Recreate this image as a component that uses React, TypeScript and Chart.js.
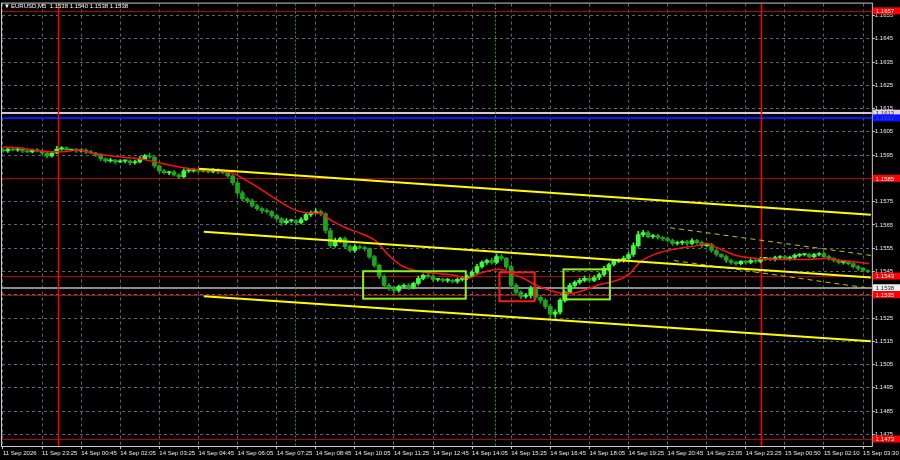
import { useEffect, useRef } from 'react';
import { Chart, registerables } from 'chart.js';

Chart.register(...registerables);

// M5 closes, one candle per two bars
const closes = [
  1.15968, 1.15976, 1.15972, 1.15976, 1.15968, 1.15964, 1.15972, 1.15968, 1.15959, 1.15947,
  1.15959, 1.15976, 1.15981, 1.15972, 1.15972, 1.15968, 1.15972, 1.15964, 1.15959, 1.15951,
  1.15934, 1.15925, 1.15929, 1.15921, 1.15925, 1.15925, 1.15917, 1.15921, 1.15934, 1.15947,
  1.15942, 1.15904, 1.15882, 1.15874, 1.15878, 1.15865, 1.15857, 1.15882, 1.15882, 1.15887,
  1.15882, 1.15882, 1.15878, 1.15887, 1.15878, 1.15874, 1.15861, 1.15831, 1.15788, 1.15762,
  1.15754, 1.15732, 1.1572, 1.15711, 1.15707, 1.1569, 1.15677, 1.1566, 1.15668, 1.15668,
  1.1566, 1.15673, 1.15694, 1.15703, 1.15707, 1.15698, 1.15626, 1.15561, 1.15583, 1.15591,
  1.15557, 1.1554, 1.15557, 1.15553, 1.15548, 1.15514, 1.15476, 1.15429, 1.1539, 1.15377,
  1.15369, 1.15386, 1.1539, 1.15382, 1.15399, 1.1542, 1.15433, 1.15429, 1.15416, 1.15416,
  1.15412, 1.15412, 1.15407, 1.15416, 1.1542, 1.15429, 1.15446, 1.15471, 1.15489, 1.15497,
  1.15489, 1.15514, 1.15506, 1.15471, 1.1539, 1.1536, 1.15343, 1.15347, 1.15377, 1.15339,
  1.15326, 1.153, 1.15266, 1.15275, 1.15326, 1.1536, 1.1539, 1.15403, 1.15412, 1.1542,
  1.15412, 1.15424, 1.15437, 1.15463, 1.1548, 1.15493, 1.15497, 1.15506, 1.15523, 1.15561,
  1.15608, 1.15617, 1.156, 1.15604, 1.15596, 1.15591, 1.15583, 1.1557, 1.15574, 1.15578,
  1.1557, 1.15583, 1.15574, 1.15561, 1.15566, 1.1554, 1.15523, 1.15514, 1.15497, 1.15489,
  1.15484, 1.15493, 1.15489, 1.15497, 1.15493, 1.15506, 1.15506, 1.15501, 1.1551, 1.15514,
  1.15506, 1.1551, 1.15519, 1.15523, 1.15523, 1.15514, 1.15523, 1.15527, 1.15514, 1.15506,
  1.15497, 1.15489, 1.15489, 1.15484, 1.15471, 1.15463, 1.15454, 1.1545,
];
const firstOpen = 1.15972;

// wick lengths beyond the body, in points (0.00001)
const upperWick = [
  6, 4, 8, 3, 5, 9, 4, 6, 3, 5, 4, 12, 6, 5, 3, 7, 4, 5, 6, 3,
  5, 4, 7, 3, 6, 4, 5, 8, 10, 6, 12, 5, 4, 6, 3, 5, 4, 9, 6, 5,
  4, 6, 3, 5, 4, 7, 5, 4, 6, 8, 5, 7, 6, 4, 8, 5, 6, 4, 9, 7,
  5, 8, 10, 6, 12, 7, 5, 9, 10, 6, 8, 7, 9, 5, 6, 4, 5, 7, 6, 8,
  9, 6, 7, 8, 5, 10, 6, 8, 7, 5, 6, 8, 5, 7, 9, 6, 8, 10, 7, 6,
  9, 12, 8, 5, 6, 8, 7, 9, 10, 6, 8, 7, 9, 10, 8, 6, 9, 7, 8, 10,
  6, 8, 7, 9, 6, 8, 7, 10, 8, 12, 14, 10, 8, 6, 7, 5, 8, 6, 7, 5,
  6, 8, 5, 7, 6, 5, 7, 4, 6, 5, 6, 4, 5, 7, 5, 6, 4, 5, 6, 4,
  5, 6, 7, 4, 5, 6, 5, 4, 6, 5, 4, 5, 3, 6, 4, 5, 4, 3,
];
const lowerWick = [
  5, 7, 4, 6, 8, 3, 5, 4, 7, 9, 6, 3, 5, 7, 4, 6, 5, 8, 4, 7,
  8, 6, 5, 9, 4, 7, 10, 6, 5, 4, 6, 9, 7, 5, 8, 6, 9, 4, 6, 5,
  7, 4, 6, 5, 8, 5, 7, 9, 10, 8, 9, 6, 8, 10, 7, 9, 8, 12, 6, 7,
  8, 6, 5, 7, 6, 9, 12, 10, 7, 8, 9, 6, 8, 7, 10, 9, 8, 10, 9, 7,
  10, 8, 6, 9, 7, 8, 6, 7, 9, 8, 7, 9, 6, 8, 7, 5, 6, 8, 7, 9,
  8, 6, 9, 12, 10, 9, 11, 8, 12, 10, 12, 10, 14, 12, 9, 8, 7, 9, 8, 7,
  8, 6, 9, 7, 8, 6, 5, 7, 6, 8, 7, 9, 6, 8, 7, 9, 6, 8, 7, 9,
  8, 6, 7, 9, 6, 8, 7, 6, 9, 8, 7, 6, 8, 5, 7, 6, 8, 5, 6, 7,
  6, 8, 5, 7, 6, 5, 7, 6, 8, 7, 6, 7, 8, 6, 7, 8, 6, 5,
];

const timeLabels = [
  '11 Sep 2026', '11 Sep 23:25', '14 Sep 00:45', '14 Sep 02:05', '14 Sep 03:25', '14 Sep 04:45',
  '14 Sep 06:05', '14 Sep 07:25', '14 Sep 08:45', '14 Sep 10:05', '14 Sep 11:25', '14 Sep 12:45',
  '14 Sep 14:05', '14 Sep 15:25', '14 Sep 16:45', '14 Sep 18:05', '14 Sep 19:25', '14 Sep 20:45',
  '14 Sep 22:05', '14 Sep 23:25', '15 Sep 00:50', '15 Sep 02:10', '15 Sep 03:30',
];
const candlesPerLabel = 8;

const priceTicks = [
  1.1475, 1.1485, 1.1495, 1.1505, 1.1515, 1.1525, 1.1535, 1.1545, 1.1555, 1.1565,
  1.1575, 1.1585, 1.1595, 1.1605, 1.1615, 1.1625, 1.1635, 1.1645, 1.1655,
];

// moving average (red)
const maIdx = [
  0, 3.5, 7.5, 11.6, 15.7, 18.3, 21.8, 27.9, 32, 36, 40.1, 44.2, 46.8, 48.9, 52.3, 55.8, 59.1,
  61.9, 65.2, 67.2, 70.1, 73.3, 76.2, 78.8, 81.5, 84.3, 88.4, 92.5, 95.1, 97.6, 101.6, 103.5,
  106.5, 109.2, 111.9, 114.7, 117.4, 122.2, 125.7, 128.3, 130.3, 133.8, 137.9, 142, 144, 146,
  150.1, 154.2, 159.7, 163.7, 168.4, 171.9, 177.2,
];
const maVal = [
  1.15985, 1.15981, 1.15968, 1.15964, 1.15972, 1.15959, 1.15947, 1.15934, 1.15917, 1.15899,
  1.15887, 1.15882, 1.15874, 1.15852, 1.1581, 1.15762, 1.1572, 1.15703, 1.15698, 1.15668,
  1.15638, 1.15613, 1.15583, 1.15523, 1.15476, 1.15454, 1.15442, 1.15433, 1.1542, 1.15442,
  1.15459, 1.15446, 1.1542, 1.1539, 1.15369, 1.15356, 1.1536, 1.15394, 1.15412, 1.15442,
  1.15489, 1.15527, 1.15548, 1.15561, 1.1557, 1.15553, 1.15519, 1.15506, 1.15501, 1.15501,
  1.15506, 1.15497, 1.15484,
];

// trend channel (solid yellow) and the short dashed one
const upperChannel = [{ x: 40.1, y: 1.15891 }, { x: 177.6, y: 1.15694 }];
const middleChannel = [{ x: 41.1, y: 1.15621 }, { x: 177.6, y: 1.15424 }];
const lowerChannel = [{ x: 41.1, y: 1.15343 }, { x: 177.6, y: 1.1515 }];
const dashUpper = [{ x: 136.5, y: 1.15638 }, { x: 177.6, y: 1.15519 }];
const dashLower = [{ x: 137.3, y: 1.15497 }, { x: 177.6, y: 1.15377 }];

// horizontal levels
const levelPrices = [1.1657, 1.1613, 1.1611, 1.1585, 1.1543, 1.1538, 1.1535, 1.1473];
const levelKinds = ['red', 'thistle', 'blue', 'red', 'red', 'bid', 'red', 'red'];

const redVLines = [11.2, 155.2];
const greenVLines = [59.7, 100.6];

// boxes
const boxFrom = [73.7, 101.6, 114.7];
const boxTo = [94.7, 108.8, 124.2];
const boxHigh = [1.15451, 1.15446, 1.15459];
const boxLow = [1.15333, 1.15322, 1.1533];
const boxKinds = ['lime', 'red', 'lime'];

const symbolTitle = 'EURUSD,M5';
const lastQuote = [1.1538, 1.154, 1.1538, 1.1538];

const FAMILY = "'Liberation Sans', Arial, sans-serif";
const FONT = `6px ${FAMILY}`;

const lineStyle: Record<string, { color: string; width: number }> = {
  red: { color: '#b40000', width: 1 },
  thistle: { color: '#dcc4dc', width: 2 },
  blue: { color: '#0a14ff', width: 2 },
  bid: { color: '#8c8c8c', width: 2 },
};
const boxStyle: Record<string, { bg: string; fg: string }> = {
  red: { bg: '#ff0000', fg: '#ffffff' },
  thistle: { bg: '#e6d2e6', fg: '#303030' },
  blue: { bg: '#0a14ff', fg: '#2a40ff' },
  bid: { bg: '#f0f0f0', fg: '#202020' },
};

const mtPlugin = {
  id: 'mtObjects',
  beforeDraw(chart: any) {
    const c = chart.ctx;
    c.save();
    c.fillStyle = '#000000';
    c.fillRect(0, 0, chart.width, chart.height);
    c.restore();
  },
  beforeDatasetsDraw(chart: any) {
    const { ctx: c, chartArea: a, scales } = chart;
    const xs = scales.x;
    const ys = scales.y;
    c.save();
    c.beginPath();
    c.rect(a.left, a.top, a.right - a.left, a.bottom - a.top);
    c.clip();
    levelPrices.forEach((p, i) => {
      const st = lineStyle[levelKinds[i]];
      const y = Math.round(ys.getPixelForValue(p)) + (st.width === 1 ? 0.5 : 0);
      c.strokeStyle = st.color;
      c.lineWidth = st.width;
      c.beginPath();
      c.moveTo(a.left, y);
      c.lineTo(a.right, y);
      c.stroke();
    });
    greenVLines.forEach((v) => {
      const x = Math.round(xs.getPixelForValue(v)) + 0.5;
      c.strokeStyle = '#2f9a2f';
      c.lineWidth = 1;
      c.setLineDash([2, 2]);
      c.beginPath();
      c.moveTo(x, a.top);
      c.lineTo(x, a.bottom);
      c.stroke();
    });
    c.setLineDash([]);
    redVLines.forEach((v) => {
      const x = Math.round(xs.getPixelForValue(v)) + 0.5;
      c.strokeStyle = '#ff0000';
      c.lineWidth = 1.5;
      c.beginPath();
      c.moveTo(x, a.top);
      c.lineTo(x, a.bottom);
      c.stroke();
    });
    c.restore();
  },
  afterDatasetsDraw(chart: any) {
    const { ctx: c, chartArea: a, scales } = chart;
    const xs = scales.x;
    const ys = scales.y;
    c.save();
    boxFrom.forEach((f, i) => {
      const x1 = xs.getPixelForValue(f);
      const x2 = xs.getPixelForValue(boxTo[i]);
      const y1 = ys.getPixelForValue(boxHigh[i]);
      const y2 = ys.getPixelForValue(boxLow[i]);
      c.strokeStyle = boxKinds[i] === 'red' ? '#ff1a1a' : '#8cf01e';
      c.lineWidth = 2;
      c.strokeRect(x1, y1, x2 - x1, y2 - y1);
    });

    // frame
    c.strokeStyle = '#c8c8c8';
    c.lineWidth = 1;
    c.strokeRect(a.left - 0.5, a.top - 0.5, a.right - a.left + 1, a.bottom - a.top + 1);

    // title
    c.font = FONT;
    c.fillStyle = '#ffffff';
    c.textBaseline = 'middle';
    c.textAlign = 'left';
    c.fillText('\u25BC', 4, 6);
    c.fillText(`${symbolTitle}  ${lastQuote.map((q) => q.toFixed(4)).join(' ')}`, 11, 6);

    // price boxes on the right axis
    levelPrices.forEach((p, i) => {
      const st = boxStyle[levelKinds[i]];
      const y = ys.getPixelForValue(p);
      c.fillStyle = st.bg;
      c.fillRect(a.right + 1, y - 3.5, chart.width - a.right - 1, 7);
      c.fillStyle = st.fg;
      c.fillText(p.toFixed(4), a.right + 4, y + 0.5);
    });
    c.restore();
  },
};

export default function App() {
  const canvasRef = useRef<HTMLCanvasElement>(null);
  const chartRef = useRef<Chart | null>(null);

  useEffect(() => {
    if (!canvasRef.current) return;
    if (chartRef.current) chartRef.current.destroy();

    const pt = 0.00001;
    const opens = closes.map((c, i) => (i === 0 ? firstOpen : closes[i - 1]));
    const bodies = closes.map((c, i) => ({ x: i, y: [opens[i], c] }));
    const wicks = closes.map((c, i) => ({
      x: i,
      y: [Math.min(opens[i], c) - lowerWick[i] * pt, Math.max(opens[i], c) + upperWick[i] * pt],
    }));
    const bodyColors = closes.map((c, i) => (c >= opens[i] ? '#3cff3c' : '#1fa51f'));
    const ma = maIdx.map((x, i) => ({ x, y: maVal[i] }));

    const seg = (data: { x: number; y: number }[], color: string, width: number, dash: number[] = []) => ({
      type: 'line' as const,
      data,
      borderColor: color,
      borderWidth: width,
      borderDash: dash,
      pointRadius: 0,
      order: 0,
    });

    chartRef.current = new Chart(canvasRef.current, {
      type: 'bar',
      data: {
        datasets: [
          seg(upperChannel, '#ffff00', 2),
          seg(middleChannel, '#ffff00', 2),
          seg(lowerChannel, '#ffff00', 2),
          seg(dashUpper, '#c8c000', 1, [5, 4]),
          seg(dashLower, '#c8c000', 1, [5, 4]),
          {
            type: 'line' as const,
            data: ma,
            borderColor: '#ff1010',
            borderWidth: 1.5,
            pointRadius: 0,
            cubicInterpolationMode: 'monotone',
            order: 1,
          },
          {
            type: 'bar' as const,
            data: bodies as any,
            backgroundColor: bodyColors,
            barThickness: 4,
            minBarLength: 1,
            grouped: false,
            order: 2,
          },
          {
            type: 'bar' as const,
            data: wicks as any,
            backgroundColor: bodyColors,
            barThickness: 1,
            grouped: false,
            order: 3,
          },
        ] as any,
      },
      options: {
        responsive: false,
        animation: false,
        devicePixelRatio: 1,
        layout: { padding: { left: 2, top: 2, right: 0, bottom: 0 } },
        plugins: {
          legend: { display: false },
          tooltip: { enabled: false },
        },
        scales: {
          x: {
            type: 'linear',
            min: -0.2,
            max: 177.8,
            offset: false,
            afterBuildTicks: (s: any) => {
              s.ticks = timeLabels.map((_, k) => ({ value: k * candlesPerLabel }));
            },
            afterFit: (s: any) => {
              s.height = 14;
            },
            grid: { color: '#5c6670', offset: false, tickLength: 3, tickColor: '#c8c8c8' },
            border: { display: false, dash: [3, 3] },
            ticks: {
              autoSkip: false,
              maxRotation: 0,
              align: 'start',
              padding: 1,
              color: '#ececec',
              font: { family: FAMILY, size: 6 },
              callback: (v: any) => timeLabels[Math.round(Number(v) / candlesPerLabel)] ?? '',
            },
          },
          y: {
            type: 'linear',
            position: 'right',
            min: 1.147,
            max: 1.16601,
            afterBuildTicks: (s: any) => {
              s.ticks = priceTicks.map((value) => ({ value }));
            },
            afterFit: (s: any) => {
              s.width = 24;
            },
            grid: { color: '#5c6670', tickLength: 3, tickColor: '#c8c8c8' },
            border: { display: false, dash: [3, 3] },
            ticks: {
              padding: 0,
              color: '#ececec',
              font: { family: FAMILY, size: 6 },
              callback: (v: any) => Number(v).toFixed(4),
            },
          },
        },
      } as any,
      plugins: [mtPlugin],
    });

    return () => {
      if (chartRef.current) {
        chartRef.current.destroy();
        chartRef.current = null;
      }
    };
  }, []);

  return (
    <div style={{ position: 'fixed', left: 0, top: 0, width: 900, height: 460, background: '#000' }}>
      <canvas ref={canvasRef} width={900} height={460} style={{ width: 900, height: 460, display: 'block' }} />
    </div>
  );
}
